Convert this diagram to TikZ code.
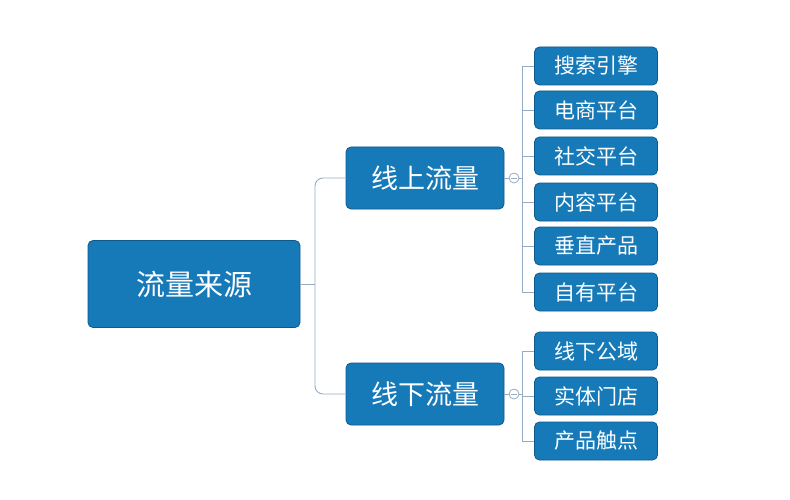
\documentclass[tikz,border=0pt]{standalone}
\usepackage{fontspec}
\setmainfont{Noto Sans CJK SC}
\definecolor{linec}{RGB}{150,170,195}
\definecolor{boxc}{RGB}{22,122,185}
\definecolor{edgec}{RGB}{15,90,140}
\begin{document}
\begin{tikzpicture}[x=1pt,y=-1pt,
  box/.style={draw=edgec,line width=0.8pt,fill=boxc,rounded corners=5pt,text=white,inner sep=0pt,anchor=center},
  root/.style={box,minimum width=212pt,minimum height=87pt,font=\fontsize{29}{30}\selectfont},
  mid/.style={box,minimum width=158pt,minimum height=62pt,font=\fontsize{27}{28}\selectfont},
  leaf/.style={box,minimum width=123pt,minimum height=38pt,font=\fontsize{21}{22}\selectfont},
  conn/.style={draw=linec,line width=0.9pt},
  knob/.style={circle,draw=linec,fill=white,minimum size=10pt,inner sep=0pt,line width=0.8pt}]
\path[use as bounding box,fill=white] (0,0) rectangle (790,500);
\node[root] (r) at (194,284) {流量来源};
\node[mid] (m1) at (425,178) {线上流量};
\node[mid] (m2) at (425,394) {线下流量};
\foreach \n/\y/\t in {a/66/搜索引擎,b/110/电商平台,c/156/社交平台,d/202/内容平台,e/246/垂直产品,f/292/自有平台,g/351/线下公域,h/396/实体门店,i/441/产品触点}
  \node[leaf] (\n) at (596,\y) {\t};
\coordinate (j) at (315,284);
\draw[conn] (r.east) -- (j);
\draw[conn,rounded corners=8pt] (j) |- (m1.west);
\draw[conn,rounded corners=8pt] (j) |- (m2.west);
\node[knob] (k1) at (514,178) {};
\node[knob] (k2) at (514,394) {};
\draw[conn] (m1.east) -- (k1.west);
\draw[conn] (m2.east) -- (k2.west);
\draw[conn] (k1.east) -- (522,178);
\draw[conn] (k2.east) -- (522,394);
\draw[conn] (522,66) -- (522,292);
\draw[conn] (522,351) -- (522,441);
\foreach \n in {a,b,c,d,e,f,g,h,i} \draw[conn] (\n.west -| 522,0) -- (\n.west);
\draw[linec,line width=0.8pt] (511,178) -- (517,178) (511,394) -- (517,394);
\end{tikzpicture}
\end{document}
